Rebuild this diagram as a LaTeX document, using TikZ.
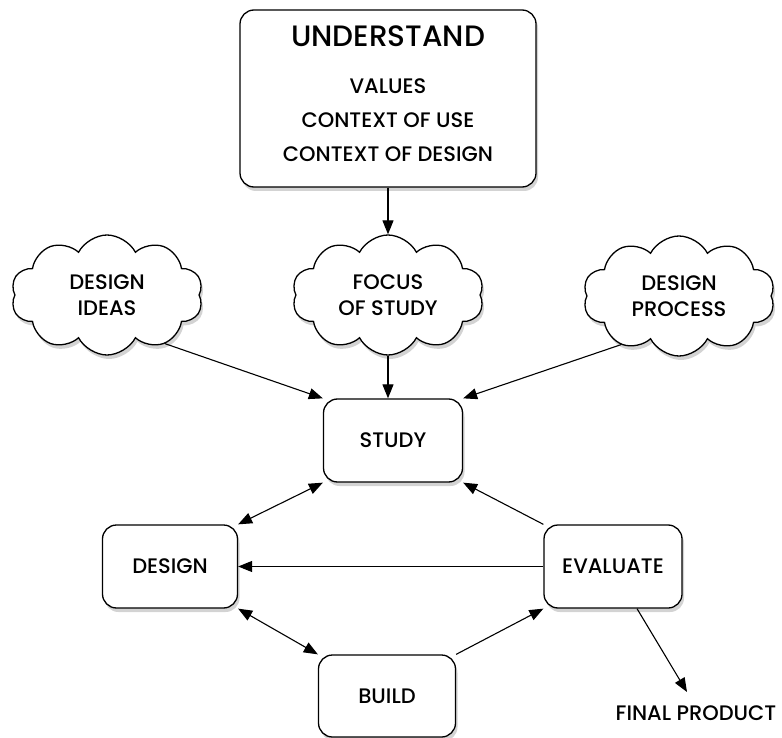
\documentclass[tikz,border=0pt]{standalone}
\usepackage{fontspec}
\setmainfont{Poppins}[UprightFont={* Medium}]
\usetikzlibrary{arrows.meta,shapes.symbols,shadows}
\tikzset{
  box/.style={draw=black, line width=1.3pt, rounded corners=14pt, fill=white,
    drop shadow={opacity=0.35, shadow xshift=2pt, shadow yshift=-4pt},
    align=center, font=\fontsize{21}{24}\selectfont},
  puff/.style={cloud, cloud puffs=10, cloud puff arc=125, aspect=1.75, draw=black, line width=1.3pt, fill=white,
    drop shadow={opacity=0.35, shadow xshift=2pt, shadow yshift=-4pt},
    minimum width=192pt, minimum height=120pt, inner sep=0pt,
    align=center, font=\fontsize{21}{26}\selectfont},
  lbl/.style={font=\fontsize{21}{24}\selectfont},
  tip/.tip={Triangle[length=14pt,width=11pt]},
  arr/.style={line width=1.1pt, -tip},
  darr/.style={line width=1.1pt, tip-tip}
}
\begin{document}
\begin{tikzpicture}[x=1pt,y=-1pt]
\useasboundingbox (0,0) rectangle (782,738);
\node[box, minimum width=296pt, minimum height=177pt] (und) at (388,98.5) {};
\node[font=\fontsize{29.5}{34}\selectfont] (undt) at (388,36) {UNDERSTAND};
\node[lbl] (v1) at (388,86) {VALUES};
\node[lbl] (v2) at (388,120) {CONTEXT OF USE};
\node[lbl] (v3) at (388,154) {CONTEXT OF DESIGN};

\node[puff] (ideas) at (107,295) {DESIGN\\IDEAS};
\node[puff] (focus) at (388,295) {FOCUS\\OF STUDY};
\node[puff] (proc) at (679,296) {DESIGN\\PROCESS};

\node[box, minimum width=139pt, minimum height=83pt] (study) at (393,440.5) {STUDY};
\node[box, minimum width=135pt, minimum height=83pt] (design) at (170,566.5) {DESIGN};
\node[box, minimum width=138pt, minimum height=83pt] (eval) at (613,566.5) {EVALUATE};
\node[box, minimum width=137pt, minimum height=82pt] (build) at (387,696) {BUILD};
\node[lbl, anchor=center] (final) at (696,713) {FINAL PRODUCT};

\coordinate (fp) at (687,692);
\draw[arr] (und.south -| focus.north) -- (focus.north);
\draw[arr] (ideas.-40) -- (study.north west);
\draw[arr] (focus.south) -- (study.north -| focus.south);
\draw[arr] (proc.220) -- (study.north east);
\draw[darr] (study.south west) -- (design.north east);
\draw[arr] (eval.north west) -- (study.south east);
\draw[arr] (eval.west) -- (design.east);
\draw[darr] (design.south east) -- (build.north west);
\draw[arr] (build.north east) -- (eval.south west);
\draw[arr] (eval.south) ++(24,0) coordinate (es) (es) -- (fp);
\end{tikzpicture}
\end{document}
